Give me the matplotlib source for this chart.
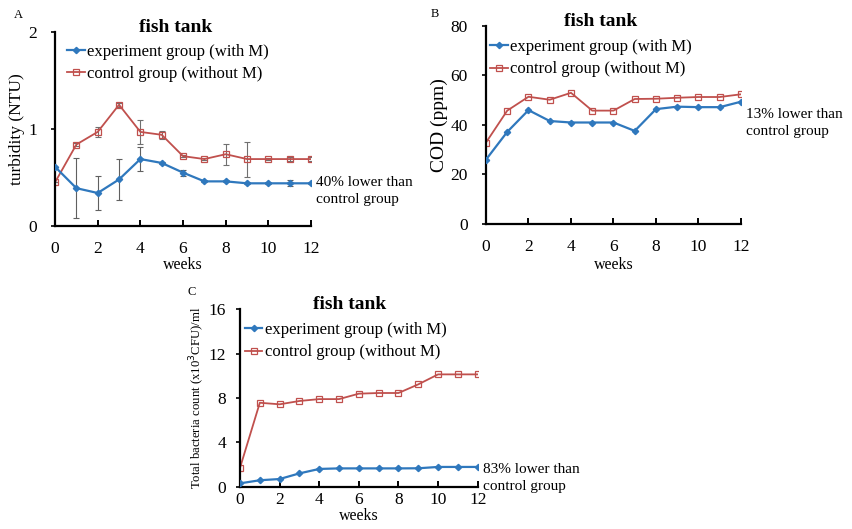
import numpy as np
import matplotlib.pyplot as plt

plt.rcParams['font.family'] = ['Liberation Serif', 'DejaVu Serif']

weeks = list(range(13))

# A: turbidity
turb_exp = [0.61, 0.39, 0.34, 0.48, 0.69, 0.65, 0.55, 0.46, 0.46, 0.44, 0.44, 0.44, 0.44]
turb_exp_err = [0.0, 0.31, 0.18, 0.21, 0.12, 0.01, 0.03, 0.01, 0.01, 0.01, 0.01, 0.03, 0.01]
turb_ctl = [0.45, 0.84, 0.97, 1.25, 0.97, 0.94, 0.72, 0.69, 0.74, 0.69, 0.69, 0.69, 0.69]
turb_ctl_err = [0.0, 0.02, 0.05, 0.02, 0.12, 0.04, 0.01, 0.01, 0.11, 0.18, 0.01, 0.02, 0.02]

# B: COD
cod_exp = [26, 37.2, 46, 41.6, 41, 41, 41, 37.6, 46.4, 47.4, 47.2, 47.2, 49.4]
cod_ctl = [32.9, 45.8, 51.4, 50.2, 53, 45.8, 45.8, 50.5, 50.6, 51, 51.3, 51.3, 52.4]

# C: total bacteria count
bac_exp = [0.3, 0.58, 0.69, 1.2, 1.6, 1.65, 1.65, 1.65, 1.65, 1.66, 1.78, 1.78, 1.78]
bac_ctl = [1.7, 7.57, 7.43, 7.73, 7.9, 7.9, 8.39, 8.45, 8.45, 9.23, 10.13, 10.13, 10.13]

lbl_exp = 'experiment group (with M)'
lbl_ctl = 'control group (without M)'
blue = '#2f78bd'
red = '#c0504d'

fig = plt.figure(figsize=(8.52, 5.29), dpi=100)


def panel(rect, exp, ctl, ymax, ystep, ylabel, ylabel_size, note, note_y, leg_xy,
          exp_err=None, ctl_err=None, title_x=0.47, xlabel_pad=1, xpad=11, ypad=10,
          ylabel_pad=2):
    ax = fig.add_axes(rect)
    if ctl_err is not None:
        ax.errorbar(weeks, ctl, yerr=ctl_err, fmt='none', ecolor='#707070',
                    elinewidth=0.8, capsize=2, capthick=0.8, zorder=1)
        ax.errorbar(weeks, exp, yerr=exp_err, fmt='none', ecolor='#606060',
                    elinewidth=0.8, capsize=2, capthick=0.8, zorder=1)
    ax.plot(weeks, exp, color=blue, lw=1.6, marker='D', ms=3.2, mfc=blue, mec=blue,
            label=lbl_exp, zorder=3)
    ax.plot(weeks, ctl, color=red, lw=1.3, marker='s', ms=5, mfc='none', mec=red,
            mew=0.9, label=lbl_ctl, zorder=2)
    ax.set_xlim(0, 12)
    ax.set_ylim(0, ymax)
    ax.set_xticks(range(0, 13, 2))
    ax.set_yticks(np.arange(0, ymax + ystep / 2, ystep))
    ax.spines['top'].set_visible(False)
    ax.spines['right'].set_visible(False)
    for s in ('left', 'bottom'):
        ax.spines[s].set_linewidth(1.6)
    ax.tick_params(axis='x', direction='in', length=4, width=1.4, pad=xpad, labelsize=12.5)
    ax.tick_params(axis='y', direction='out', length=3, width=1.2, pad=ypad, labelsize=12.5)
    ax.set_xlabel('weeks', fontsize=11.5, labelpad=xlabel_pad)
    ax.set_ylabel(ylabel, fontsize=ylabel_size, labelpad=ylabel_pad)
    ax.text(title_x, 1.0, 'fish tank', transform=ax.transAxes, ha='center', va='baseline',
            fontsize=14, fontweight='bold')
    ax.legend(loc='upper left', bbox_to_anchor=leg_xy, frameon=False, fontsize=12,
              handlelength=1.05, handletextpad=0.15, labelspacing=0.38, borderpad=0,
              borderaxespad=0)
    ax.text(12.25, note_y, note, fontsize=11, ha='left', va='center', linespacing=1.4)
    return ax


axA = panel([0.0646, 0.5728, 0.3005, 0.3667], turb_exp, turb_ctl, 2, 1,
            'turbidity (NTU)', 12.5, '40% lower than\ncontrol group', 0.36, (0.048, 0.94),
            exp_err=turb_exp_err, ctl_err=turb_ctl_err, title_x=0.47, xlabel_pad=0)
axB = panel([0.5704, 0.5766, 0.2993, 0.3743], cod_exp, cod_ctl, 80, 20,
            'COD (ppm)', 14, '13% lower than\ncontrol group', 41, (0.016, 0.934),
            title_x=0.45)
axC = panel([0.2817, 0.0800, 0.2790, 0.3353], bac_exp, bac_ctl, 16, 4,
            'Total bacteria count (x10$^3$CFU)/ml', 9.2, '83% lower than\ncontrol group',
            0.75, (0.02, 0.928), title_x=0.46, xlabel_pad=0, xpad=4, ypad=7,
            ylabel_pad=1)

fig.text(14 / 852, 1 - 15 / 529, 'A', fontsize=9, ha='left', va='center')
fig.text(431 / 852, 1 - 14 / 529, 'B', fontsize=9, ha='left', va='center')
fig.text(187 / 852, 1 - 292 / 529, 'C', fontsize=9, ha='left', va='center')

fig.savefig('out.png', dpi=100)
